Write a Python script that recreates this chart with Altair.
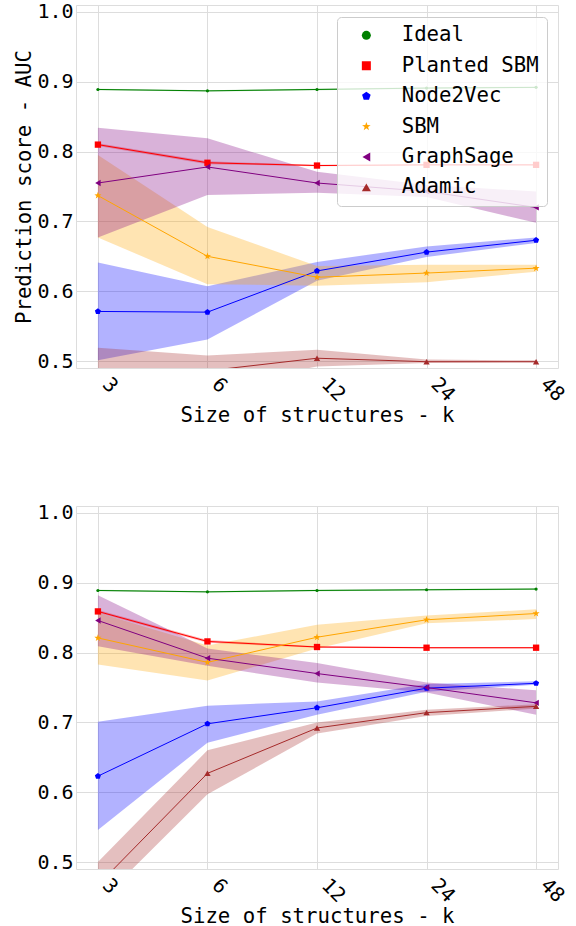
import altair as alt
import pandas as pd

K = [3, 6, 12, 24, 48]
METHODS = ["Ideal", "Planted SBM", "Node2Vec", "SBM", "GraphSage", "Adamic"]
COLORS = ["#008000", "#ff0000", "#0000ff", "#ffa500", "#800080", "#a52a2a"]
PENTAGON = "M0,-1L0.951,-0.309L0.588,0.809L-0.588,0.809L-0.951,-0.309Z"
STAR = ("M0,-1L0.235,-0.324L0.951,-0.309L0.380,0.124L0.588,0.809L0,0.4"
        "L-0.588,0.809L-0.380,0.124L-0.951,-0.309L-0.235,-0.324Z")
SHAPES = ["circle", "square", PENTAGON, STAR, "triangle-left", "triangle-up"]
MSIZES = [10, 40, 40, 56, 40, 40]

# ---- top panel (mean, low, high) ----
top_ideal = [0.889, 0.887, 0.889, 0.891, 0.892]
top_ideal_lo = [0.888, 0.886, 0.888, 0.890, 0.891]
top_ideal_hi = [0.890, 0.888, 0.890, 0.892, 0.893]
top_psbm = [0.810, 0.784, 0.780, 0.781, 0.781]
top_psbm_lo = [0.808, 0.782, 0.779, 0.780, 0.780]
top_psbm_hi = [0.812, 0.786, 0.781, 0.782, 0.782]
top_n2v = [0.571, 0.570, 0.629, 0.656, 0.673]
top_n2v_lo = [0.501, 0.531, 0.615, 0.649, 0.669]
top_n2v_hi = [0.641, 0.607, 0.642, 0.664, 0.677]
top_sbm = [0.737, 0.650, 0.620, 0.626, 0.633]
top_sbm_lo = [0.677, 0.610, 0.608, 0.613, 0.628]
top_sbm_hi = [0.795, 0.692, 0.636, 0.638, 0.638]
top_gs = [0.755, 0.778, 0.755, 0.743, 0.720]
top_gs_lo = [0.677, 0.738, 0.741, 0.735, 0.698]
top_gs_hi = [0.834, 0.819, 0.771, 0.752, 0.743]
top_ad = [0.480, 0.486, 0.504, 0.499, 0.499]
top_ad_lo = [0.441, 0.464, 0.492, 0.497, 0.498]
top_ad_hi = [0.519, 0.508, 0.516, 0.502, 0.501]

# ---- bottom panel ----
bot_ideal = [0.889, 0.887, 0.889, 0.890, 0.891]
bot_ideal_lo = [0.888, 0.886, 0.888, 0.889, 0.890]
bot_ideal_hi = [0.890, 0.888, 0.890, 0.891, 0.892]
bot_psbm = [0.859, 0.816, 0.808, 0.807, 0.807]
bot_psbm_lo = [0.857, 0.814, 0.807, 0.806, 0.806]
bot_psbm_hi = [0.861, 0.818, 0.809, 0.808, 0.808]
bot_n2v = [0.623, 0.698, 0.721, 0.749, 0.756]
bot_n2v_lo = [0.546, 0.671, 0.711, 0.744, 0.754]
bot_n2v_hi = [0.701, 0.724, 0.730, 0.755, 0.759]
bot_sbm = [0.821, 0.786, 0.822, 0.847, 0.856]
bot_sbm_lo = [0.783, 0.760, 0.806, 0.842, 0.848]
bot_sbm_hi = [0.857, 0.810, 0.840, 0.853, 0.862]
bot_gs = [0.846, 0.792, 0.770, 0.750, 0.728]
bot_gs_lo = [0.809, 0.781, 0.757, 0.743, 0.711]
bot_gs_hi = [0.882, 0.806, 0.785, 0.757, 0.746]
bot_ad = [0.467, 0.627, 0.692, 0.714, 0.723]
bot_ad_lo = [0.441, 0.597, 0.684, 0.709, 0.720]
bot_ad_hi = [0.500, 0.660, 0.700, 0.718, 0.726]

TOP = {
    "Ideal": (top_ideal, top_ideal_lo, top_ideal_hi),
    "Planted SBM": (top_psbm, top_psbm_lo, top_psbm_hi),
    "Node2Vec": (top_n2v, top_n2v_lo, top_n2v_hi),
    "SBM": (top_sbm, top_sbm_lo, top_sbm_hi),
    "GraphSage": (top_gs, top_gs_lo, top_gs_hi),
    "Adamic": (top_ad, top_ad_lo, top_ad_hi),
}
BOT = {
    "Ideal": (bot_ideal, bot_ideal_lo, bot_ideal_hi),
    "Planted SBM": (bot_psbm, bot_psbm_lo, bot_psbm_hi),
    "Node2Vec": (bot_n2v, bot_n2v_lo, bot_n2v_hi),
    "SBM": (bot_sbm, bot_sbm_lo, bot_sbm_hi),
    "GraphSage": (bot_gs, bot_gs_lo, bot_gs_hi),
    "Adamic": (bot_ad, bot_ad_lo, bot_ad_hi),
}

FONT = "DejaVu Sans Mono"
W, H = 482, 363


def panel(vals, show_legend, ytitle):
    rows = []
    for m in METHODS:
        mean, lo, hi = vals[m]
        for k, a, b, c in zip(K, mean, lo, hi):
            rows.append({"method": m, "k": k, "mean": a, "lo": b, "hi": c})
    df = pd.DataFrame(rows)
    base = alt.Chart(df)

    xscale = alt.Scale(type="log", base=2, domain=[3 / 2 ** 0.2, 48 * 2 ** 0.2], nice=False)
    xaxis = alt.Axis(values=K, format="d", labelAngle=45, labelAlign="left",
                     labelBaseline="alphabetic", labelOffset=3, labelPadding=17,
                     labelFont=FONT, labelFontSize=20, labelColor="black",
                     titleFont=FONT, titleFontSize=20.7, titleFontWeight="normal",
                     titleColor="black", titleBaseline="alphabetic", titleY=53,
                     ticks=False, domain=False, gridColor="#dddddd")
    yscale = alt.Scale(domain=[0.49, 1.01], nice=False, zero=False)
    yaxis = alt.Axis(values=[0.5, 0.6, 0.7, 0.8, 0.9, 1.0], format=".1f", labelFont=FONT,
                     labelFontSize=20, labelColor="black", titleFont=FONT, titleFontSize=20.7,
                     titleFontWeight="normal", titleColor="black", ticks=False, domain=False,
                     gridColor="#dddddd", labelPadding=3, titleBaseline="alphabetic",
                     titleX=-45.5)
    X = alt.X("k:Q", scale=xscale, axis=xaxis, title="Size of structures - k")

    def Y(field):
        return alt.Y(field, type="quantitative", scale=yscale, axis=yaxis, title=ytitle)

    layers = []
    # confidence bands (drawn below all lines, in series order)
    for m, c in zip(METHODS, COLORS):
        layers.append(
            base.transform_filter(alt.datum.method == m)
            .mark_area(color=c, opacity=0.3, clip=True)
            .encode(x=X, y=Y("lo"), y2="hi")
        )
    # mean lines
    for m, c in zip(METHODS, COLORS):
        layers.append(
            base.transform_filter(alt.datum.method == m)
            .mark_line(color=c, strokeWidth=1, clip=True)
            .encode(x=X, y=Y("mean"))
        )
    # markers
    for m, c, s, z in zip(METHODS, COLORS, SHAPES, MSIZES):
        layers.append(
            base.transform_filter(alt.datum.method == m)
            .mark_point(color=c, filled=True, opacity=1, strokeWidth=0, shape=s, size=z, clip=True)
            .encode(x=X, y=Y("mean"))
        )
    # legend carrier (points lie outside the y domain and are clipped away)
    if show_legend:
        leg = alt.Legend(title=None, orient="none", legendX=261, legendY=12,
                         labelFont=FONT, labelFontSize=20.7, labelColor="black",
                         symbolSize=81, symbolStrokeWidth=0, symbolOpacity=1,
                         fillColor="rgba(255,255,255,0.8)", strokeColor="#cccccc",
                         cornerRadius=4, padding=8, rowPadding=8.4, labelOffset=25,
                         symbolOffset=11)
        layers.append(
            base.transform_calculate(ghost="0.2")
            .mark_point(filled=True, opacity=1, strokeWidth=0, size=81, clip=True)
            .encode(
                x=X, y=Y("ghost"),
                color=alt.Color("method:N", scale=alt.Scale(domain=METHODS, range=COLORS), legend=leg),
                shape=alt.Shape("method:N", scale=alt.Scale(domain=METHODS, range=SHAPES), legend=leg),
            )
        )
    return alt.layer(*layers).properties(width=W, height=H)


top = panel(TOP, True, "Prediction score - AUC")
bottom = panel(BOT, False, "")

chart = (
    alt.vconcat(top, bottom, spacing=76)
    .properties(padding={"left": 13, "top": 1, "right": 5, "bottom": 0})
    .configure_view(stroke="#999999", strokeWidth=1)
    .configure(font=FONT)
)

chart.save("out.html", embed_options={"renderer": "svg", "actions": False})
